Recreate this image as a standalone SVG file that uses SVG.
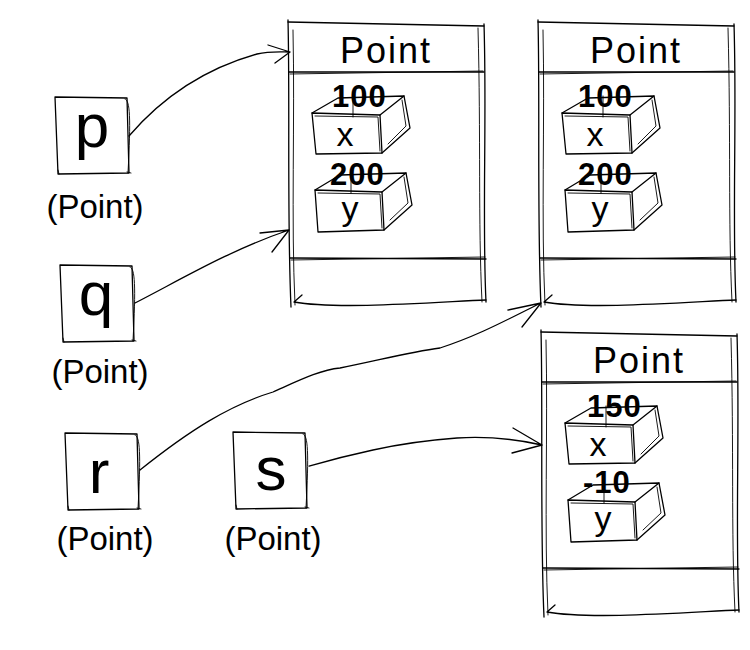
<svg xmlns="http://www.w3.org/2000/svg" xmlns:xlink="http://www.w3.org/1999/xlink" width="750" height="650" viewBox="0 0 750 650">
<style>
.ln{fill:none;stroke:#000;stroke-width:1.3;stroke-linecap:round;stroke-linejoin:round}
.thin{fill:none;stroke:#000;stroke-width:0.9;stroke-linecap:round}
.hd{font-family:"Liberation Sans",Arial,sans-serif;font-size:36px;letter-spacing:2px;fill:#000;text-anchor:middle}
.val{font-family:"Liberation Sans",Arial,sans-serif;font-size:31px;font-weight:bold;letter-spacing:1px;fill:#000}
.fld{font-family:"Liberation Sans",Arial,sans-serif;font-size:34px;fill:#000;text-anchor:middle}
.var{font-family:"Liberation Sans",Arial,sans-serif;font-size:62px;fill:#000;text-anchor:middle}
.typ{font-family:"Liberation Sans",Arial,sans-serif;font-size:33px;fill:#000;text-anchor:middle}
</style>
<defs>
<g id="frame">
<path class="ln" d="M0,0 C2,80 -1,200 3,287"/>
<path class="thin" d="M5,10 C7,100 3,200 7,285"/>
<path class="ln" d="M0,2 L196,6"/>
<path class="ln" d="M196,4 C199,100 194,200 198,282"/>
<path class="thin" d="M190,8 C193,120 190,200 194,282"/>
<path class="ln" d="M14,275 L6,282 C50,290 150,282 198,280"/>
<path class="ln" d="M1,52 L196,52"/>
<path class="thin" d="M2,54 L195,51"/>
<path class="ln" d="M2,238 L198,239"/>
<path class="thin" d="M3,240 L197,237"/>
<path class="ln" d="M24,93 L92,95 L94,133 L28,134 Z"/>
<path class="thin" d="M27,96 L90,97 L92,131"/>
<path class="ln" d="M24,93 L50,78 L116,76 L92,95"/>
<path class="ln" d="M116,76 L122,108 L94,133"/>
<path class="thin" d="M114,80 L118,106 L100,124"/>
<path class="thin" d="M65,76 L65,97"/>
<path class="ln" d="M27,170 L94,172 L96,210 L30,212 Z"/>
<path class="thin" d="M30,173 L92,174 L94,208"/>
<path class="ln" d="M27,170 L52,155 L118,153 L94,172"/>
<path class="ln" d="M118,153 L124,185 L96,210"/>
<path class="thin" d="M116,157 L120,183 L102,200"/>
<path class="thin" d="M63,153 L63,173"/>
<text class="hd" x="98" y="43">Point</text>
<text class="fld" x="57" y="126">x</text>
<text class="fld" x="62" y="200">y</text>
</g>
<g id="varbox">
<path class="ln" d="M0,0 L72,1 L74,76 L3,77 Z"/>
<path class="thin" d="M70,2 C75,3 76,20 73,76 M3,73 L4,77 M72,75 L76,76"/>
</g>
</defs>

<g id="connectors">
<path class="ln" d="M129,136 C160,100 200,70 257,54 C270,51 280,52 290,52 M268,45 L290,52 L275,63"/>
<path class="ln" d="M135,303 C180,280 230,250 289,230 M260,233 L289,230 L272,252"/>
<path class="ln" d="M140,470 C190,430 230,405 273,392 C300,380 320,370 340,368 C380,360 410,352 440,348 C480,335 510,318 541,303 M508,310 L541,303 L522,327"/>
<path class="ln" d="M309,466 C330,460 350,455 373,450 C400,444 430,440 457,438 C490,436 520,440 542,445 M513,428 L542,445 L512,453"/>
</g>

<g id="obj1" transform="translate(288,20)">
<use xlink:href="#frame" href="#frame"/>
<text class="val" x="44" y="87">100</text>
<text class="val" x="42" y="165">200</text>
</g>
<g id="obj2" transform="translate(538,20)">
<use xlink:href="#frame" href="#frame"/>
<text class="val" x="40" y="87">100</text>
<text class="val" x="40" y="165">200</text>
</g>
<g id="obj3" transform="translate(541,330)">
<use xlink:href="#frame" href="#frame"/>
<text class="val" x="46" y="87">150</text>
<text class="val" x="42" y="163">-10</text>
</g>

<g id="var-p" transform="translate(55,97)">
<use xlink:href="#varbox" href="#varbox"/>
<text class="var" x="37" y="50">p</text>
<text class="typ" x="40" y="121">(Point)</text>
</g>
<g id="var-q" transform="translate(60,265)">
<use xlink:href="#varbox" href="#varbox"/>
<text class="var" x="36" y="50">q</text>
<text class="typ" x="40" y="118">(Point)</text>
</g>
<g id="var-r" transform="translate(65,433)">
<use xlink:href="#varbox" href="#varbox"/>
<text class="var" x="34" y="60">r</text>
<text class="typ" x="40" y="117">(Point)</text>
</g>
<g id="var-s" transform="translate(233,432)">
<use xlink:href="#varbox" href="#varbox"/>
<text class="var" x="38" y="58">s</text>
<text class="typ" x="40" y="118">(Point)</text>
</g>
</svg>
